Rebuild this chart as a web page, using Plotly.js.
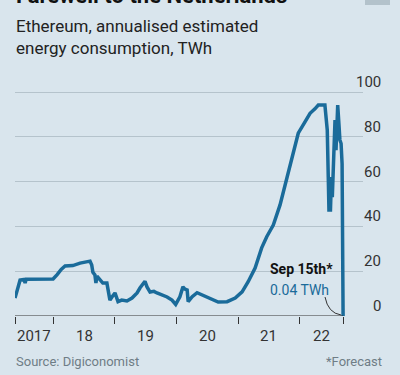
<!DOCTYPE html>
<html>
<head>
<meta charset="utf-8">
<script src="https://cdn.plot.ly/plotly-3.0.1.min.js"></script>
<style>
html,body{margin:0;padding:0;background:#d9e5ed;}
#chart{width:400px;height:375px;}
</style>
</head>
<body>
<div id="chart"></div>
<script>
// ---- data ----
const dates = [
'2017-05-18','2017-06-17','2017-07-10','2017-07-17','2017-07-23','2017-12-30',
'2018-01-23','2018-02-16','2018-03-11','2018-04-26','2018-06-08','2018-08-06',
'2018-08-16','2018-08-23','2018-09-04','2018-09-10','2018-09-16','2018-10-03',
'2018-10-21','2018-11-14','2018-12-02','2018-12-14','2019-01-01','2019-01-19',
'2019-02-10','2019-03-13','2019-04-12','2019-05-12','2019-05-29','2019-06-28',
'2019-07-10','2019-07-28','2019-08-20','2019-09-07','2019-10-07','2019-11-06',
'2019-12-05','2019-12-27','2020-01-21','2020-02-08','2020-02-20','2020-03-04',
'2020-03-10','2020-04-03','2020-05-02','2020-06-01','2020-07-18','2020-09-04',
'2020-10-27','2020-12-14','2021-01-24','2021-03-01','2021-04-11','2021-05-20',
'2021-06-19','2021-07-28','2021-09-06','2021-10-16','2021-11-24','2021-12-23',
'2022-02-01','2022-03-03','2022-04-01','2022-04-21','2022-05-30','2022-06-05',
'2022-06-13','2022-06-19','2022-06-23','2022-07-02','2022-07-08','2022-07-13',
'2022-07-23','2022-07-29','2022-08-04','2022-08-14','2022-08-21','2022-08-27',
'2022-09-03','2022-09-09','2022-09-15'
];
const values = [
8.0,16.0,16.3,14.7,16.4,16.5,
18.5,20.8,22.3,22.5,23.6,24.5,
22.8,19.5,18.3,14.7,17.8,16.0,
14.7,14.7,7.1,8.5,10.3,6.4,
7.1,6.7,8.0,10.3,12.5,15.5,
13.0,10.7,11.0,10.3,9.4,8.5,
7.1,5.2,8.6,13.0,12.0,11.6,
6.4,8.6,10.4,9.4,7.6,6.25,
6.4,8.0,10.8,15.3,21.4,30.4,
35.4,40.6,49.6,61.6,73.4,81.6,
86.7,90.5,92.5,94.2,94.2,89.7,
83.0,62.0,47.3,47.3,62.0,53.0,
78.6,87.5,74.0,94.2,86.0,78.6,
77.0,68.0,0.04
];
const yTicks = [0,20,40,60,80,100];
const xTickVals = ['2017-05-18','2018-01-01','2019-01-01','2020-01-01','2021-01-01','2022-01-01','2022-09-15'];
const xLabels = ['2017','18','19','20','21','22'];
const xLabelPos = ['2017-09-08','2018-07-02','2019-07-02','2020-07-02','2021-07-02','2022-05-08'];
const titleText = 'Farewell to the Netherlands';
const subtitleText = 'Ethereum, annualised estimated<br>energy consumption, TWh';
const noteDate = 'Sep 15th*';
const noteValue = '0.04 TWh';
const sourceText = 'Source: Digiconomist';
const footText = '*Forecast';

// ---- layout geometry ----
const W = 400, H = 375;
const L = 15, R = 363, T = 90, B = 316;
const pxPerUnit = 2.24;
const yMax = (B - T) / pxPerUnit;
const startMs = Date.parse(dates[0]);
const endMs = Date.parse(dates[dates.length-1]);
const msPerPx = (endMs - startMs) / (343 - L);
const rangeEnd = new Date(endMs + (R - 343) * msPerPx).toISOString().slice(0,10);
const px2x = p => (p - L) / (R - L);
const py2y = p => (B - p) / (B - T);

const FONT = 'Roboto, Arial, sans-serif';
const LINE = '#1a6b9a';

const annotations = [];
// y labels
yTicks.forEach(v => annotations.push({
  xref:'paper', yref:'y', x: px2x(383), y: v, xanchor:'right', yanchor:'bottom',
  text: String(v), showarrow:false, font:{family:FONT, size:15, color:'#333'}, yshift:-1
}));
// x labels
xLabels.forEach((t,i) => annotations.push({
  xref:'x', yref:'paper', x: xLabelPos[i], y: py2y(325), xanchor:'center', yanchor:'top',
  text: t, showarrow:false, font:{family:FONT, size:15, color:'#333'}
}));
// titles
annotations.push({xref:'paper', yref:'paper', x:px2x(14), y:py2y(10), xanchor:'left', yanchor:'bottom',
  text:'<b>'+titleText+'</b>', showarrow:false, font:{family:FONT, size:22, color:'#111'}});
annotations.push({xref:'paper', yref:'paper', x:px2x(14), y:py2y(14), xanchor:'left', yanchor:'top', align:'left',
  text:subtitleText, showarrow:false, font:{family:FONT, size:17, color:'#222'}});
// note
annotations.push({xref:'paper', yref:'paper', x:px2x(268), y:py2y(269), xanchor:'left', yanchor:'middle',
  text:'<b>'+noteDate+'</b>', showarrow:false, font:{family:FONT, size:14, color:'#111'}});
annotations.push({xref:'paper', yref:'paper', x:px2x(268), y:py2y(290), xanchor:'left', yanchor:'middle',
  text:noteValue, showarrow:false, font:{family:FONT, size:14, color:LINE}});
// footer
annotations.push({xref:'paper', yref:'paper', x:px2x(14), y:py2y(361), xanchor:'left', yanchor:'middle',
  text:sourceText, showarrow:false, font:{family:FONT, size:13, color:'#6f7d86'}});
annotations.push({xref:'paper', yref:'paper', x:px2x(384), y:py2y(361), xanchor:'right', yanchor:'middle',
  text:footText, showarrow:false, font:{family:FONT, size:13, color:'#6f7d86'}});

const shapes = [
  // x axis line
  {type:'line', xref:'x', yref:'y', x0:dates[0], x1:dates[dates.length-1], y0:0, y1:0,
   line:{color:'#333', width:1}},
  // connector
  {type:'path', xref:'paper', yref:'paper',
   path:`M ${px2x(325)} ${py2y(297)} Q ${px2x(328)} ${py2y(313)} ${px2x(341)} ${py2y(315)}`,
   line:{color:'#333', width:1}},
  // logo block
  {type:'rect', xref:'paper', yref:'paper', x0:px2x(365), x1:px2x(390), y0:py2y(5), y1:py2y(-2),
   fillcolor:'#b3c2cb', line:{width:0}}
];

const trace = {
  x: dates, y: values, type:'scatter', mode:'lines',
  line:{color:LINE, width:3.5, shape:'linear'}, hoverinfo:'skip'
};

const layout = {
  width: W, height: H,
  margin:{l:L, r:W-R, t:T, b:H-B, pad:0},
  paper_bgcolor:'#d9e5ed', plot_bgcolor:'#d9e5ed',
  showlegend:false,
  xaxis:{type:'date', range:[dates[0], rangeEnd], tickmode:'array', tickvals:xTickVals,
    ticktext:xTickVals.map(()=>''), ticks:'outside', ticklen:7, tickcolor:'#333', tickwidth:1,
    showgrid:false, zeroline:false, showline:false, fixedrange:true},
  yaxis:{range:[0,yMax], tickmode:'array', tickvals:yTicks, showticklabels:false,
    showgrid:true, gridcolor:'#b5c3cc', gridwidth:1, zeroline:false, showline:false, fixedrange:true},
  annotations, shapes
};

Plotly.newPlot('chart', [trace], layout, {displayModeBar:false, staticPlot:true});
</script>
</body>
</html>
